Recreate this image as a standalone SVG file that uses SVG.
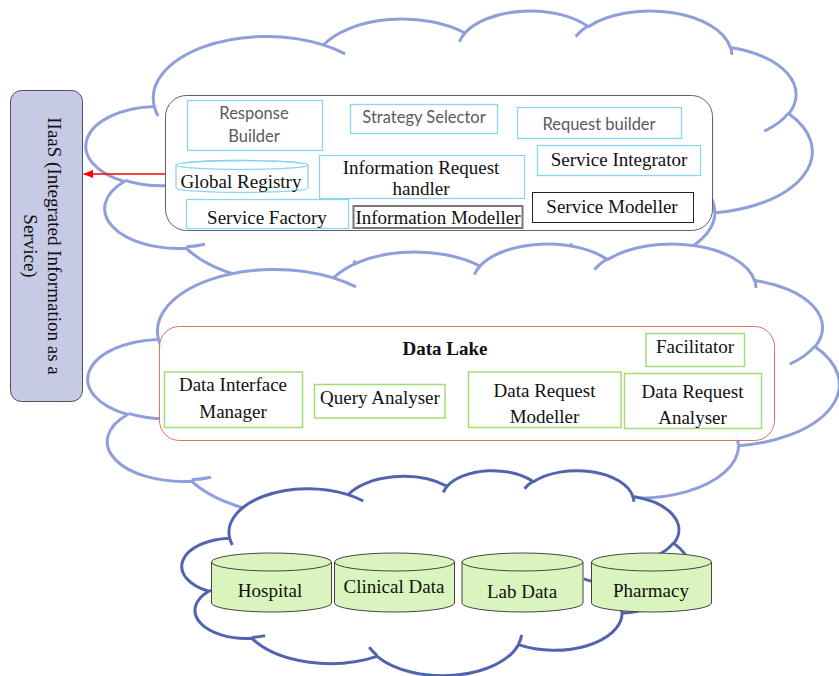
<svg xmlns="http://www.w3.org/2000/svg" xmlns:xlink="http://www.w3.org/1999/xlink" width="839" height="676" viewBox="0 0 839 676">
  <style>
    .serif { font-family: "Liberation Serif", "Times New Roman", serif; font-size: 19px; fill: #111; text-anchor: middle; }
    .sans { font-family: Lato, "Open Sans", sans-serif; font-size: 16.5px; fill: #5a5a5a; text-anchor: middle; }
    .cyan { fill: #ffffff; stroke: #8ad6f0; stroke-width: 1.3; }
    .green { fill: #ffffff; stroke: #a2dc74; stroke-width: 1.5; }
    .db { fill: #d9f5bd; stroke: #444; stroke-width: 1; }
    .cloud-line { vector-effect: non-scaling-stroke; stroke-linejoin: round; }
  </style>
  <defs>
    <!-- cloud outline in a 43200 x 43200 box, scaled per use -->
    <g id="cloud">
      <path class="cloud-line" d="M3900 14370 A6753 9190 0 0 1 14005 5202 A5333 7267 0 0 1 22458 3433 A4365 5945 0 0 1 29834 2480 A4857 6595 0 0 1 38319 5575 A5333 7273 0 0 1 41819 15459 A6775 9220 0 0 1 37405 30203 A5785 7867 0 0 1 28556 36813 A6752 9215 0 0 1 16482 39268 A7720 10543 0 0 1 5803 35474 A4360 5918 0 0 1 2112 25553 A4345 5945 0 0 1 3900 14370 Z"/>
      <path class="cloud-line" fill="none" d="M4693 26177 A4345 5945 0 0 1 2160 25380 M6928 34899 A4360 5918 0 0 1 5819 35281 M16478 39090 A6752 9215 0 0 1 15809 37346 M28827 34751 A6752 9215 0 0 1 28560 36660 M34129 22954 A5785 7867 0 0 1 37381 30090 M41798 15354 A5333 7273 0 0 1 40350 18029 M38324 5426 A4857 6595 0 0 1 38400 6690 M29078 3952 A4857 6595 0 0 1 29820 2340 M22141 4720 A4365 5945 0 0 1 22500 3330 M14000 5192 A6753 9190 0 0 1 15302 6544 M4127 15789 A6753 9190 0 0 1 3900 14371"/>
    </g>
    <marker id="arrowRed" markerWidth="10" markerHeight="8" refX="9" refY="4" orient="auto" markerUnits="userSpaceOnUse">
      <path d="M0 0 L10 4 L0 8 Z" fill="#ff0000"/>
    </marker>
  </defs>

  <rect width="839" height="676" fill="#ffffff"/>

  <!-- cloud layers -->
  <g id="clouds">
    <use xlink:href="#cloud" href="#cloud" fill="#ffffff" stroke="#8e9fdc" stroke-width="3" transform="translate(89 10) scale(0.016736 0.0067130)"/>
    <use xlink:href="#cloud" href="#cloud" fill="#ffffff" stroke="#8e9fdc" stroke-width="3" transform="translate(91 243) scale(0.017315 0.0067130)"/>
    <use xlink:href="#cloud" href="#cloud" fill="#ffffff" stroke="#5263b0" stroke-width="3" transform="translate(184 470) scale(0.011713 0.0047454)"/>
  </g>

  <!-- IIaaS side box -->
  <g id="iiaas">
    <rect x="10.5" y="90.5" width="72" height="311" rx="11" fill="#c6cae5" stroke="#4d4f5e" stroke-width="1"/>
    <g transform="translate(46 246) rotate(90)">
      <text class="serif" x="0" y="-2">IIaaS (Integrated Information as a</text>
      <text class="serif" x="0" y="22">Service)</text>
    </g>
  </g>

  <!-- service layer panel -->
  <g id="service-layer">
    <rect x="165.5" y="95.5" width="547" height="135" rx="21" fill="#ffffff" stroke="#5b5f70" stroke-width="1"/>
  </g>
  <g id="response-builder">
    <rect class="cyan" x="187.5" y="100.5" width="135" height="50"/>
    <text class="sans" x="254" y="119">Response</text>
    <text class="sans" x="254" y="142">Builder</text>
  </g>
  <g id="strategy-selector">
    <rect class="cyan" x="350.5" y="104.5" width="147" height="29"/>
    <text class="sans" x="424" y="122.5">Strategy Selector</text>
  </g>
  <g id="request-builder">
    <rect class="cyan" x="517.5" y="107.5" width="164" height="31"/>
    <text class="sans" x="599" y="130">Request builder</text>
  </g>
  <g id="service-integrator">
    <rect class="cyan" x="537.5" y="145.5" width="163" height="30"/>
    <text class="serif" x="619" y="165.5">Service Integrator</text>
  </g>
  <g id="global-registry">
    <path class="cyan" d="M176 165 A66 4.5 0 0 1 308 165 V188 A66 4.5 0 0 1 176 188 Z"/>
    <ellipse cx="242" cy="165" rx="66" ry="4.5" fill="none" stroke="#8ad6f0" stroke-width="1.3"/>
    <text class="serif" x="241" y="187.5">Global Registry</text>
  </g>
  <g id="information-request-handler">
    <rect class="cyan" x="319.5" y="155.5" width="205" height="43"/>
    <text class="serif" x="421" y="173.5">Information Request</text>
    <text class="serif" x="421" y="195">handler</text>
  </g>
  <g id="service-factory">
    <rect class="cyan" x="186.5" y="199.5" width="162" height="29"/>
    <text class="serif" x="267" y="223.5">Service Factory</text>
  </g>
  <g id="information-modeller">
    <rect x="353.5" y="206" width="169" height="22" fill="#ffffff" stroke="#777" stroke-width="2"/>
    <text class="serif" x="438" y="224">Information Modeller</text>
  </g>
  <g id="service-modeller">
    <rect x="532.5" y="192.5" width="161" height="30" fill="#ffffff" stroke="#222" stroke-width="1"/>
    <text class="serif" x="612" y="212.5">Service Modeller</text>
  </g>

  <!-- data lake panel -->
  <g id="data-lake">
    <rect x="159.5" y="326.5" width="615" height="114" rx="20" fill="#ffffff" fill-opacity="0.92" stroke="#e0705f" stroke-width="1"/>
    <text class="serif" x="445" y="355" font-weight="bold">Data Lake</text>
  </g>
  <g id="facilitator">
    <rect class="green" x="646" y="333.5" width="98.5" height="33"/>
    <text class="serif" x="695" y="353">Facilitator</text>
  </g>
  <g id="data-interface-manager">
    <rect class="green" x="164.5" y="372" width="138" height="55.5"/>
    <text class="serif" x="233" y="391">Data Interface</text>
    <text class="serif" x="233" y="418">Manager</text>
  </g>
  <g id="query-analyser">
    <rect class="green" x="314.5" y="384.5" width="130.5" height="33.5"/>
    <text class="serif" x="380" y="404">Query Analyser</text>
  </g>
  <g id="data-request-modeller">
    <rect class="green" x="468.5" y="372" width="152.5" height="55.5"/>
    <text class="serif" x="544.5" y="396.5">Data Request</text>
    <text class="serif" x="544.5" y="422.5">Modeller</text>
  </g>
  <g id="data-request-analyser">
    <rect class="green" x="624.5" y="373.5" width="137" height="55"/>
    <text class="serif" x="692.5" y="398">Data Request</text>
    <text class="serif" x="692.5" y="423.5">Analyser</text>
  </g>

  <!-- data sources -->
  <g id="hospital">
    <path class="db" d="M211.5 562 A60 9 0 0 1 331.5 562 V603 A60 9 0 0 1 211.5 603 Z"/>
    <path d="M211.5 562 A60 9 0 0 0 331.5 562" fill="none" stroke="#444" stroke-width="1"/>
    <text class="serif" x="270" y="597">Hospital</text>
  </g>
  <g id="clinical-data">
    <path class="db" d="M334.5 562 A60 9 0 0 1 454.5 562 V603 A60 9 0 0 1 334.5 603 Z"/>
    <path d="M334.5 562 A60 9 0 0 0 454.5 562" fill="none" stroke="#444" stroke-width="1"/>
    <text class="serif" x="394" y="593">Clinical Data</text>
  </g>
  <g id="lab-data">
    <path class="db" d="M462 562 A60.5 9 0 0 1 583 562 V603 A60.5 9 0 0 1 462 603 Z"/>
    <path d="M462 562 A60.5 9 0 0 0 583 562" fill="none" stroke="#444" stroke-width="1"/>
    <text class="serif" x="522" y="598">Lab Data</text>
  </g>
  <g id="pharmacy">
    <path class="db" d="M591.5 562 A60 9 0 0 1 711.5 562 V603 A60 9 0 0 1 591.5 603 Z"/>
    <path d="M591.5 562 A60 9 0 0 0 711.5 562" fill="none" stroke="#444" stroke-width="1"/>
    <text class="serif" x="651" y="597">Pharmacy</text>
  </g>

  <!-- connectors -->
  <g id="connectors">
    <line x1="165" y1="174" x2="84" y2="174" stroke="#ff0000" stroke-width="1.5" marker-end="url(#arrowRed)"/>
  </g>
</svg>
